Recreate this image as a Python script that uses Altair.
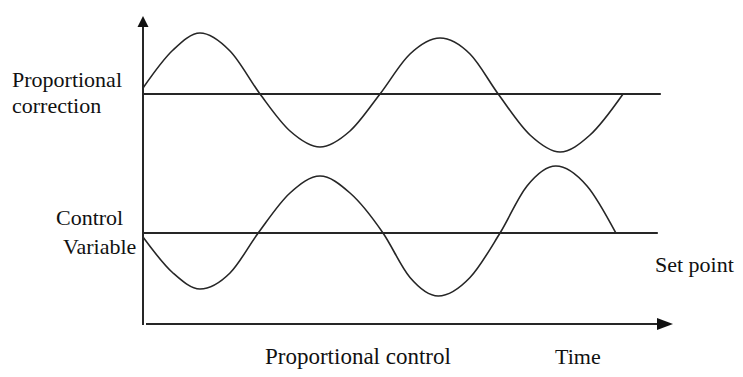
import altair as alt
import pandas as pd

# Time in quarter-periods, values in chart units (bottom axis = 0)
upper_t = [0, 0.5, 0.95, 1.45, 1.95, 2.45, 2.95, 3.45, 3.95, 4.45, 4.95, 5.45, 5.92, 6.45, 6.95, 7.45, 8.0]
upper_v = [23.7, 27.5, 29.2, 27.4, 23.1, 19.4, 17.8, 19.4, 23.1, 27.1, 28.7, 27.1, 23.1, 19.0, 17.3, 19.0, 23.1]

lower_t = [0, 0.5, 0.95, 1.45, 1.92, 2.45, 2.95, 3.45, 4.0, 4.45, 4.92, 5.45, 5.95, 6.4, 6.88, 7.4, 7.88]
lower_v = [8.8, 5.2, 3.6, 5.2, 9.2, 13.2, 14.9, 13.2, 9.2, 4.75, 2.9, 4.75, 9.2, 13.9, 15.9, 13.9, 9.2]

setpoint_levels = [23.1, 9.2]
setpoint_ends = [8.63, 8.58]

labels = ["Proportional", "correction", "Control", "Variable", "Set point", "Proportional control", "Time"]

X_DOMAIN = [0, 8.833]
Y_DOMAIN = [0, 30.9]
INK = "#262626"
FONT = "Liberation Serif"

xs = alt.Scale(domain=X_DOMAIN, nice=False, zero=False)
ys = alt.Scale(domain=Y_DOMAIN, nice=False, zero=False)

curves = pd.DataFrame(
    {"t": upper_t + lower_t,
     "v": upper_v + lower_v,
     "series": ["upper"] * len(upper_t) + ["lower"] * len(lower_t)}
)
sp = pd.DataFrame({"t0": [0, 0], "t1": setpoint_ends, "v": setpoint_levels})

one = alt.Data(values=[{"a": 1}])

lines = alt.Chart(curves).mark_line(interpolate="monotone", strokeWidth=1.6, color=INK).encode(
    x=alt.X("t:Q", scale=xs, axis=None),
    y=alt.Y("v:Q", scale=ys, axis=None),
    detail="series:N",
)

setpoints = alt.Chart(sp).mark_rule(strokeWidth=2, color=INK).encode(
    x=alt.X("t0:Q", scale=xs, axis=None),
    x2="t1:Q",
    y=alt.Y("v:Q", scale=ys, axis=None),
)

v_axis = alt.Chart(one).mark_rule(strokeWidth=2, color=INK).encode(
    x=alt.value(0), y=alt.value(10), y2=alt.value(309)
)
h_axis = alt.Chart(one).mark_rule(strokeWidth=2, color=INK).encode(
    x=alt.value(3), x2=alt.value(516), y=alt.value(308)
)
up_head = alt.Chart(one).mark_point(
    shape="M0,-1L1,1L-1,1Z", size=121, filled=True, color="#111", opacity=1
).encode(x=alt.value(0), y=alt.value(5.5))
right_head = alt.Chart(one).mark_point(
    shape="M1,0L-1,-0.75L-1,0.75Z", size=256, filled=True, color="#111", opacity=1
).encode(x=alt.value(522), y=alt.value(308))

label_pos = [(-131, 71), (-131, 97), (-87, 209), (-80, 238), (512, 256), (122, 348), (412, 348)]
label_size = [22, 22, 22, 22, 22, 23, 22]
texts = []
for lab, (px, py), fs in zip(labels, label_pos, label_size):
    texts.append(
        alt.Chart(one).mark_text(
            text=lab, font=FONT, fontSize=fs, align="left", baseline="alphabetic", color="#111"
        ).encode(x=alt.value(px), y=alt.value(py))
    )

chart = alt.layer(lines, setpoints, v_axis, h_axis, up_head, right_head, *texts).properties(
    width=530,
    height=309,
    background="white",
    padding={"left": 135, "top": 8, "right": 62, "bottom": 44},
    autosize=alt.AutoSizeParams(type="none"),
).configure_view(stroke=None).configure_text(font=FONT)

chart.save("out.html", embed_options={"renderer": "svg", "actions": False})
